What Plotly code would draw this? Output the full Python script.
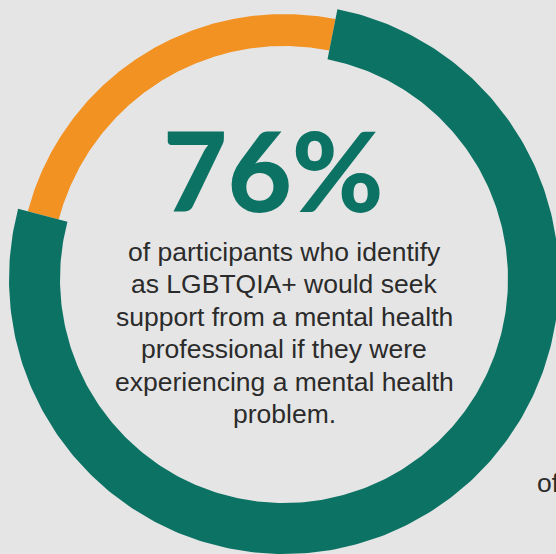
import numpy as np
import plotly.graph_objects as go

# data
labels = ["Would seek support", "Would not"]
values = [76, 24]
headline = "76%"
body_lines = [
    "of participants who identify",
    "as LGBTQIA+ would seek",
    "support from a mental health",
    "professional if they were",
    "experiencing a mental health",
    "problem.",
]

# style
GREEN = "#0c7264"
ORANGE = "#f19223"
BG = "#e5e5e5"
TXT = "#2b2b2b"
W, H = 556, 554
CX, CY = 284, 279          # ring centre in pixels
R_IN_G, R_OUT_G = 224, 275  # green band
R_IN_O, R_OUT_O = 233, 265  # orange band
START = 11.2                # degrees clockwise from 12 o'clock

def arc_poly(a0, a1, r0, r1, n=300):
    t = np.radians(np.linspace(a0, a1, n))
    xo, yo = r1 * np.sin(t), r1 * np.cos(t)
    xi, yi = r0 * np.sin(t[::-1]), r0 * np.cos(t[::-1])
    return np.concatenate([xo, xi, xo[:1]]), np.concatenate([yo, yi, yo[:1]])

total = sum(values)
spans = [v / total * 360 for v in values]
a0 = START
bands = [(R_IN_G, R_OUT_G, GREEN), (R_IN_O, R_OUT_O, ORANGE)]

fig = go.Figure()
segs = []
for lab, span, (r0, r1, col) in zip(labels, spans, bands):
    segs.append((lab, a0, a0 + span, r0, r1, col))
    a0 += span
for lab, s, e, r0, r1, col in reversed(segs):
    x, y = arc_poly(s, e, r0, r1)
    fig.add_trace(go.Scatter(x=x, y=y, mode="lines", fill="toself",
                             fillcolor=col, line=dict(width=0, color=col),
                             name=lab, hoverinfo="skip", showlegend=False))

fig.add_annotation(x=273 - CX, y=CY - 169, text=headline,
                   showarrow=False, xanchor="center", yanchor="middle",
                   font=dict(family="Lato", size=111, color=GREEN, weight=900))

BODY_SIZE = 26.5
first_base, step = 260, 32.4
for i, line in enumerate(body_lines):
    base = first_base + i * step
    fig.add_annotation(x=0, y=CY - (base - 8), text=line,
                       showarrow=False, xanchor="center", yanchor="middle",
                       font=dict(family="Liberation Sans, Arial", size=BODY_SIZE, color=TXT))
# fragment of a neighbouring panel's caption, cut by the page edge as in the source
fig.add_annotation(x=535 - CX, y=CY - 483, text="of", showarrow=False,
                   xanchor="left", yanchor="middle",
                   font=dict(family="Liberation Sans, Arial", size=BODY_SIZE, color=TXT))

fig.update_layout(
    width=W, height=H, margin=dict(l=0, r=0, t=0, b=0),
    paper_bgcolor=BG, plot_bgcolor=BG,
    xaxis=dict(range=[-CX, W - CX], visible=False, fixedrange=True),
    yaxis=dict(range=[CY - H, CY], visible=False, fixedrange=True),
    showlegend=False,
)
fig.write_html("out.html", config={"displayModeBar": False})
